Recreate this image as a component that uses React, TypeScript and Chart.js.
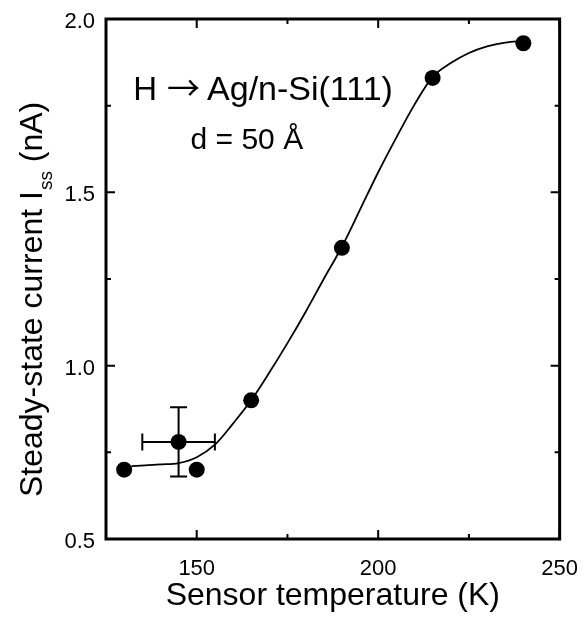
import React, { useEffect, useRef } from "react";
import { Chart, registerables } from "chart.js";

Chart.register(...registerables);

// Measured data (sensor temperature in K, steady-state current in nA)
const temperatures = [130, 145, 150, 165, 190, 215, 240];
const currents = [0.7, 0.78, 0.7, 0.9, 1.34, 1.83, 1.93];
const xErrors = [0, 10, 0, 0, 0, 0, 0];
const yErrors = [0, 0.1, 0, 0, 0, 0, 0];

// Fitted curve
const fitTemperatures = [132, 140, 145, 150, 155, 160, 165, 170, 175, 180, 185, 190, 195, 200, 205, 210, 215, 220, 225, 230, 235, 240];
const fitCurrents = [0.71, 0.715, 0.719, 0.736, 0.772, 0.833, 0.9, 0.98, 1.065, 1.155, 1.25, 1.343, 1.45, 1.558, 1.658, 1.753, 1.833, 1.873, 1.902, 1.921, 1.932, 1.937];

// Axes
const xMin = 125;
const xMax = 250;
const yMin = 0.5;
const yMax = 2.0;
const xMajorTicks = [150, 200, 250];
const xMinorTicks = [175, 225];
const yMajorTicks = [0.5, 1.0, 1.5, 2.0];
const yMinorTicks = [0.75, 1.25, 1.75];
const xTickLabels = ["150", "200", "250"];
const yTickLabels = ["0.5", "1.0", "1.5", "2.0"];

const xTitle = "Sensor temperature (K)";
const yTitleMain = "Steady-state current I";
const yTitleSub = "ss";
const yTitleEnd = " (nA)";
const annotationLine1Parts = ["H", "\u2192", "Ag/n-Si(111)"];
const annotationLine2 = "d = 50 \u00C5";

const FONT = '"Liberation Sans", Arial, Helvetica, sans-serif';
const ARROW_FONT = '"Noto Sans CJK SC", "DejaVu Sans", sans-serif';

const decorPlugin = {
  id: "decor",
  afterDatasetsDraw(chart: any) {
    const ctx = chart.ctx as CanvasRenderingContext2D;
    const xs = chart.scales.x;
    const ys = chart.scales.y;
    const { left, right, top, bottom } = chart.chartArea;

    ctx.save();
    ctx.strokeStyle = "#000";
    ctx.fillStyle = "#000";

    // error bars
    ctx.lineWidth = 2;
    const cap = 8.5;
    for (let i = 0; i < temperatures.length; i++) {
      const px = xs.getPixelForValue(temperatures[i]);
      const py = ys.getPixelForValue(currents[i]);
      if (yErrors[i] > 0) {
        const y1 = ys.getPixelForValue(currents[i] + yErrors[i]);
        const y2 = ys.getPixelForValue(currents[i] - yErrors[i]);
        ctx.beginPath();
        ctx.moveTo(px, y1);
        ctx.lineTo(px, y2);
        ctx.moveTo(px - cap, y1);
        ctx.lineTo(px + cap, y1);
        ctx.moveTo(px - cap, y2);
        ctx.lineTo(px + cap, y2);
        ctx.stroke();
      }
      if (xErrors[i] > 0) {
        const x1 = xs.getPixelForValue(temperatures[i] - xErrors[i]);
        const x2 = xs.getPixelForValue(temperatures[i] + xErrors[i]);
        ctx.beginPath();
        ctx.moveTo(x1, py);
        ctx.lineTo(x2, py);
        ctx.moveTo(x1, py - cap);
        ctx.lineTo(x1, py + cap);
        ctx.moveTo(x2, py - cap);
        ctx.lineTo(x2, py + cap);
        ctx.stroke();
      }
    }

    // frame
    ctx.lineWidth = 3;
    ctx.strokeRect(left, top, right - left, bottom - top);

    // ticks (inward, mirrored)
    ctx.lineWidth = 2;
    const major = 9;
    const minor = 5;
    const drawX = (v: number, len: number) => {
      const p = xs.getPixelForValue(v);
      ctx.beginPath();
      ctx.moveTo(p, bottom);
      ctx.lineTo(p, bottom - len);
      ctx.moveTo(p, top);
      ctx.lineTo(p, top + len);
      ctx.stroke();
    };
    const drawY = (v: number, len: number) => {
      const p = ys.getPixelForValue(v);
      ctx.beginPath();
      ctx.moveTo(left, p);
      ctx.lineTo(left + len, p);
      ctx.moveTo(right, p);
      ctx.lineTo(right - len, p);
      ctx.stroke();
    };
    xMajorTicks.forEach((v) => drawX(v, major));
    xMinorTicks.forEach((v) => drawX(v, minor));
    yMajorTicks.forEach((v) => drawY(v, major));
    yMinorTicks.forEach((v) => drawY(v, minor));

    // x title, centred on the plot
    ctx.font = `32px ${FONT}`;
    ctx.textAlign = "center";
    ctx.textBaseline = "alphabetic";
    ctx.fillText(xTitle, (left + right) / 2, 605);

    // y title with subscript
    ctx.save();
    ctx.translate(42, 497);
    ctx.rotate(-Math.PI / 2);
    ctx.textAlign = "left";
    ctx.font = `32px ${FONT}`;
    ctx.fillText(yTitleMain, 0, 0);
    let w = ctx.measureText(yTitleMain).width;
    ctx.font = `19px ${FONT}`;
    ctx.fillText(yTitleSub, w + 1, 10);
    w += 1 + ctx.measureText(yTitleSub).width;
    ctx.font = `32px ${FONT}`;
    ctx.fillText(yTitleEnd, w, 0);
    ctx.restore();

    // annotations
    ctx.textAlign = "left";
    let ax = xs.getPixelForValue(132.5);
    const ay = ys.getPixelForValue(1.766);
    const gaps = [10, 7, 0];
    const fonts = [`33px ${FONT}`, `33px ${ARROW_FONT}`, `34px ${FONT}`];
    annotationLine1Parts.forEach((part, i) => {
      ctx.font = fonts[i];
      ctx.fillText(part, ax, ay);
      ax += ctx.measureText(part).width + gaps[i];
    });
    ctx.font = `30px ${FONT}`;
    ctx.fillText(annotationLine2, xs.getPixelForValue(148.3), ys.getPixelForValue(1.624));

    ctx.restore();
  },
};

export default function App() {
  const canvasRef = useRef<HTMLCanvasElement | null>(null);

  useEffect(() => {
    if (!canvasRef.current) return;
    const chart = new Chart(canvasRef.current, {
      type: "scatter",
      data: {
        datasets: [
          {
            type: "line",
            label: "fit",
            data: fitTemperatures.map((x, i) => ({ x, y: fitCurrents[i] })),
            borderColor: "#000",
            borderWidth: 1.8,
            pointRadius: 0,
            cubicInterpolationMode: "monotone",
            fill: false,
            order: 2,
          } as any,
          {
            type: "scatter",
            label: "data",
            data: temperatures.map((x, i) => ({ x, y: currents[i] })),
            backgroundColor: "#000",
            borderColor: "#000",
            borderWidth: 0,
            pointRadius: 8,
            order: 1,
          } as any,
        ],
      },
      options: {
        animation: false,
        responsive: false,
        devicePixelRatio: 1,
        layout: { padding: { top: 19, right: 21, left: 0, bottom: 0 } },
        plugins: {
          legend: { display: false },
          tooltip: { enabled: false },
        },
        scales: {
          x: {
            type: "linear",
            min: xMin,
            max: xMax,
            grid: { display: false },
            border: { display: false },
            afterFit: (s: any) => {
              s.height = 81;
            },
            afterBuildTicks: (s: any) => {
              s.ticks = xMajorTicks.map((value) => ({ value }));
            },
            ticks: {
              color: "#000",
              font: { family: FONT, size: 22 },
              padding: 9,
              maxRotation: 0,
              autoSkip: false,
              callback: (v: any) => {
                const i = xMajorTicks.indexOf(Number(v));
                return i >= 0 ? xTickLabels[i] : "";
              },
            },
          },
          y: {
            type: "linear",
            min: yMin,
            max: yMax,
            grid: { display: false },
            border: { display: false },
            afterFit: (s: any) => {
              s.width = 106;
            },
            afterBuildTicks: (s: any) => {
              s.ticks = yMajorTicks.map((value) => ({ value }));
            },
            ticks: {
              color: "#000",
              font: { family: FONT, size: 22 },
              padding: 3,
              labelOffset: 3,
              autoSkip: false,
              callback: (v: any) => {
                const i = yMajorTicks.findIndex((t) => Math.abs(t - Number(v)) < 1e-9);
                return i >= 0 ? yTickLabels[i] : "";
              },
            },
          },
        },
      },
      plugins: [decorPlugin],
    });
    return () => chart.destroy();
  }, []);

  return (
    <div style={{ position: "absolute", left: 0, top: 0, width: 587, height: 620, background: "#fff" }}>
      <canvas ref={canvasRef} width={587} height={620} />
    </div>
  );
}
